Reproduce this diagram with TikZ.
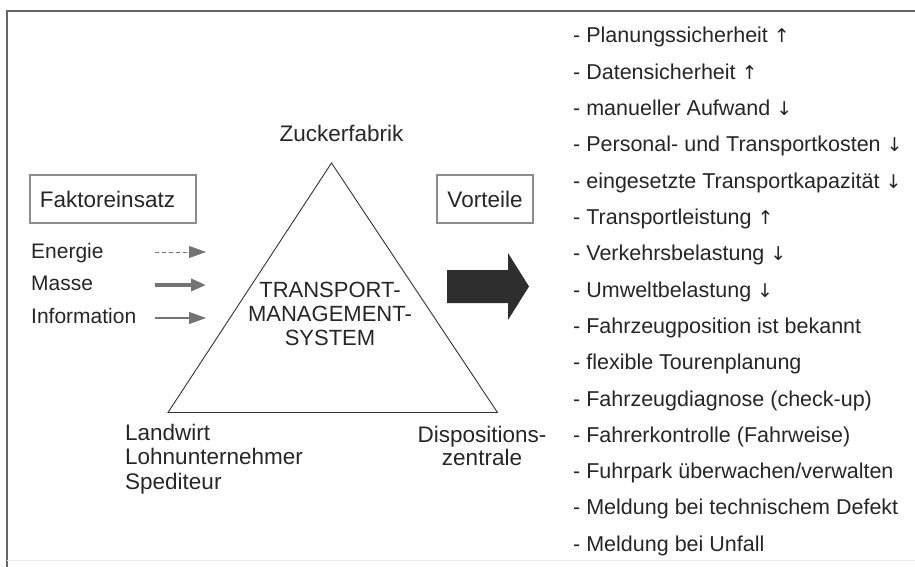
\documentclass[tikz,border=0pt]{standalone}
\usepackage{fontspec}
\setmainfont{Liberation Sans}
\newfontfamily\arrfont{DejaVu Sans}
\newcommand{\up}{{\arrfont\fontsize{19}{24}\selectfont ↑}}
\newcommand{\dn}{{\arrfont\fontsize{19}{24}\selectfont ↓}}
\usetikzlibrary{arrows.meta}
\begin{document}
\begin{tikzpicture}[x=1pt,y=-1pt,
  txt/.style={font=\fontsize{22.5}{24.5}\selectfont, text=black!85, inner sep=0pt},
  lab/.style={font=\fontsize{21}{24}\selectfont, text=black!85, inner sep=0pt, anchor=base west},
  lst/.style={font=\fontsize{21.5}{24}\selectfont, text=black!85, inner sep=0pt, anchor=base west},
  hbox/.style={draw=black!45, line width=1.3pt, minimum height=48pt, inner sep=0pt},
  inarrow/.style={draw=black!55, -{Triangle[length=17pt,width=12pt]}, fill=black!55},
]
\useasboundingbox (0,0) rectangle (915,567);
% frame
\draw[black!60, line width=1.4pt] (915,11) -- (7,11) -- (7,567);
\draw[black!8, line width=1pt] (7,560) -- (915,560);

% triangle
\coordinate (apex) at (331.5,163);
\coordinate (bl) at (168,412.5);
\coordinate (br) at (497.5,412.5);
\draw[black!80, line width=0.9pt] (apex) -- (br) -- (bl) -- cycle;

\node[txt, anchor=base] (zf) at (341.5,141) {Zuckerfabrik};
\node[txt, anchor=base, align=center, font=\fontsize{22}{24}\selectfont] (tms) at (330,345)
  {TRANSPORT-\\MANAGEMENT-\\SYSTEM};
\node[txt, anchor=base west, align=left] (lw) at (125,489)
  {Landwirt\\Lohnunternehmer\\Spediteur};
\node[txt, anchor=base, align=center, font=\fontsize{22.5}{23}\selectfont] (dz) at (482,465)
  {Dispositions-\\zentrale};

% boxes
\node[hbox, minimum width=166pt] (fe) at (113,199) {};
\node[txt, anchor=base] at (107.5,207) {Faktoreinsatz};
\node[hbox, minimum width=96pt] (vt) at (485,199) {};
\node[txt, anchor=base] at (485,207) {Vorteile};

% input labels and arrows
\node[lab] (en) at (31,258) {Energie};
\node[lab] (ma) at (31,290) {Masse};
\node[lab] (in) at (31,323) {Information};
\coordinate (e1) at (155,252); \coordinate (e2) at (206,252);
\coordinate (m1) at (155,285); \coordinate (m2) at (206,285);
\coordinate (i1) at (155,318); \coordinate (i2) at (206,318);
\draw[inarrow, line width=0.8pt, dash pattern=on 4pt off 3pt] (e1) -- (e2);
\draw[inarrow, line width=3.6pt, -{Triangle[length=15pt,width=12pt]}] (m1) -- (m2);
\draw[inarrow, line width=1.1pt] (i1) -- (i2);

% big arrow
\fill[black!82] (447,270) -- (508,270) -- (508,253) -- (529,286.5) -- (508,320) -- (508,303) -- (447,303) -- cycle;

% list
\foreach \t [count=\i from 0] in {%
  {- Planungssicherheit \up},
  {- Datensicherheit \up},
  {- manueller Aufwand \dn},
  {- Personal- und Transportkosten \dn},
  {- eingesetzte Transportkapazität \dn},
  {- Transportleistung \up},
  {- Verkehrsbelastung \dn},
  {- Umweltbelastung \dn},
  {- Fahrzeugposition ist bekannt},
  {- flexible Tourenplanung},
  {- Fahrzeugdiagnose (check-up)},
  {- Fahrerkontrolle (Fahrweise)},
  {- Fuhrpark überwachen/verwalten},
  {- Meldung bei technischem Defekt},
  {- Meldung bei Unfall}}
  \node[lst] (l\i) at (573,{43+\i*36.3}) {\t};
\end{tikzpicture}
\end{document}
